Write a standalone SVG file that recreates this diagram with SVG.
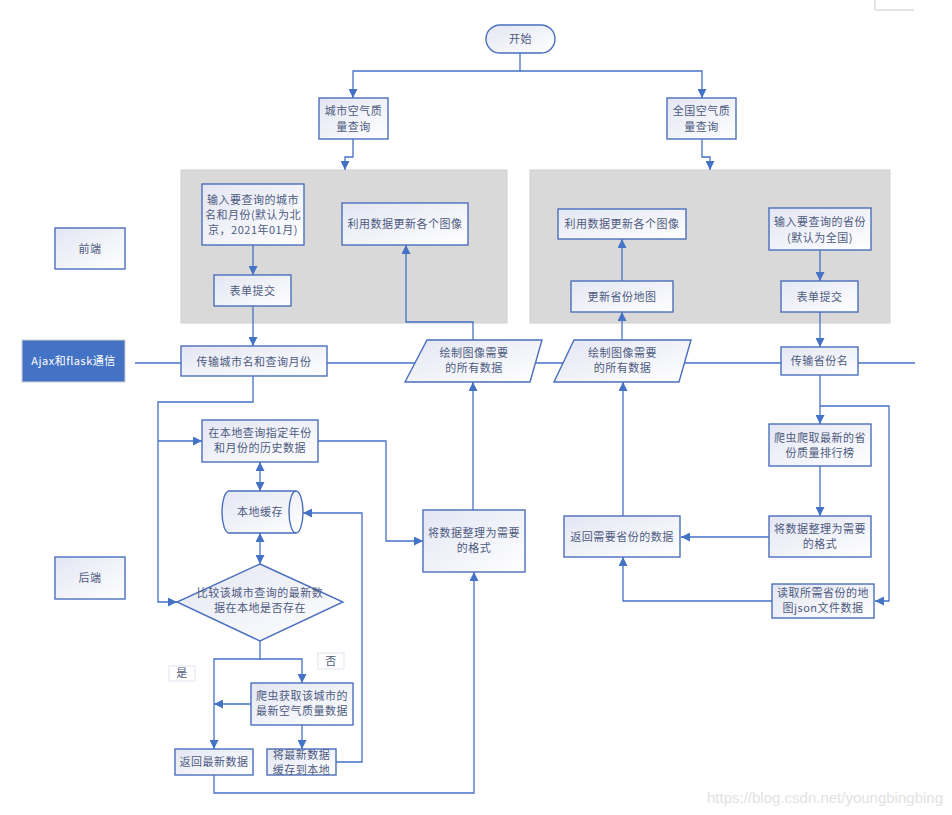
<svg xmlns="http://www.w3.org/2000/svg" width="952" height="815" viewBox="0 0 952 815">
<defs>
<linearGradient id="g" x1="0" y1="0" x2="1" y2="1">
<stop offset="0" stop-color="#e3e6f3"/>
<stop offset="1" stop-color="#ffffff"/>
</linearGradient>
<marker id="a" viewBox="0 0 10 10" refX="10" refY="5" markerWidth="9" markerHeight="9" markerUnits="userSpaceOnUse" orient="auto-start-reverse">
<path d="M0,0 L10,5 L0,10 Z" fill="#4472C4"/>
</marker>
</defs>
<style>
.n{fill:url(#g);stroke:#4a6fbd;stroke-width:1.4}
.p{fill:#d9d9d9;stroke:#d0d0d0;stroke-width:1}
.t{font-family:"Noto Sans CJK SC","Noto Sans",sans-serif;font-size:11px;letter-spacing:0.5px;fill:#4d5b80;text-anchor:middle}
.w{fill:#ffffff}
.c{fill:none;stroke:#4472C4;stroke-width:1.3}
.e{marker-end:url(#a)}
.d{marker-start:url(#a);marker-end:url(#a)}
.lb{fill:#ffffff;stroke:#e8e9f3;stroke-width:1.2}
</style>
<rect width="952" height="815" fill="#ffffff"/>
<path d="M875,0 V10 H914" fill="none" stroke="#c8c8c8" stroke-width="1"/>

<g id="panels">
<rect class="p" x="181" y="170" width="326" height="153"/>
<rect class="p" x="530" y="170" width="360" height="153"/>
</g>

<g id="connectors">
<path class="c" d="M135,363 H915"/>
<path class="c e" d="M520,53 V71 H353 V98"/>
<path class="c e" d="M520,71 H702 V98"/>
<path class="c e" d="M353,139 V157 H345 V170"/>
<path class="c e" d="M702,139 V157 H710 V170"/>
<path class="c e" d="M253,245 V275"/>
<path class="c e" d="M253,306 V346"/>
<path class="c e" d="M253,376 V402 H158 V602 H177"/>
<path class="c e" d="M158,441 H202"/>
<path class="c d" d="M260,462 V491"/>
<path class="c d" d="M260,533 V564"/>
<path class="c e" d="M318,441 H386 V541 H423"/>
<path class="c e" d="M473,510 V382"/>
<path class="c e" d="M473,340 V322 H406 V245"/>
<path class="c e" d="M260,641 V659 H214 V749"/>
<path class="c e" d="M260,659 H302 V683"/>
<path class="c e" d="M251,704 H214"/>
<path class="c e" d="M302,725 V749"/>
<path class="c e" d="M336,762 H362 V513 H303"/>
<path class="c e" d="M214,775 V793 H474 V572"/>
<path class="c e" d="M622,281 V239"/>
<path class="c e" d="M622,340 V312"/>
<path class="c e" d="M623,516 V382"/>
<path class="c e" d="M820,250 V281"/>
<path class="c e" d="M820,312 V347"/>
<path class="c e" d="M820,375 V424"/>
<path class="c e" d="M820,406 H889 V601 H875"/>
<path class="c e" d="M820,466 V516"/>
<path class="c e" d="M769,537 H681"/>
<path class="c e" d="M772,601 H623 V557"/>
</g>

<g id="start">
<rect class="n" x="486" y="25" width="69" height="28" rx="14"/>
<text class="t" x="520.5" y="43">开始</text>
</g>
<g id="city-query">
<rect class="n" x="319" y="98" width="69" height="41"/>
<text class="t" x="353.5" y="115">城市空气质</text>
<text class="t" x="353.5" y="131">量查询</text>
</g>
<g id="nation-query">
<rect class="n" x="667" y="98" width="69" height="41"/>
<text class="t" x="701.5" y="115">全国空气质</text>
<text class="t" x="701.5" y="131">量查询</text>
</g>

<g id="front-label">
<rect class="n" x="55" y="228" width="70" height="41"/>
<text class="t" x="90" y="253">前端</text>
</g>
<g id="back-label">
<rect class="n" x="55" y="557" width="70" height="42"/>
<text class="t" x="90" y="582">后端</text>
</g>

<g id="input-city">
<rect class="n" x="202" y="184" width="102" height="61"/>
<text class="t" x="253" y="204">输入要查询的城市</text>
<text class="t" x="253" y="219">名和月份(默认为北</text>
<text class="t" x="253" y="234">京，2021年01月)</text>
</g>
<g id="submit-city">
<rect class="n" x="214" y="275" width="77" height="31"/>
<text class="t" x="252.5" y="295">表单提交</text>
</g>
<g id="update-left">
<rect class="n" x="342" y="203" width="126" height="42"/>
<text class="t" x="405" y="228">利用数据更新各个图像</text>
</g>
<g id="update-right">
<rect class="n" x="558" y="209" width="128" height="30"/>
<text class="t" x="622" y="228">利用数据更新各个图像</text>
</g>
<g id="update-map">
<rect class="n" x="571" y="281" width="102" height="31"/>
<text class="t" x="622" y="301">更新省份地图</text>
</g>
<g id="input-province">
<rect class="n" x="769" y="208" width="102" height="42"/>
<text class="t" x="820" y="226">输入要查询的省份</text>
<text class="t" x="820" y="242">(默认为全国)</text>
</g>
<g id="submit-province">
<rect class="n" x="781" y="281" width="77" height="31"/>
<text class="t" x="819.5" y="301">表单提交</text>
</g>

<g id="ajax">
<rect x="22" y="340" width="103" height="42" fill="#4472C4" stroke="#d0d0d0" stroke-width="1"/>
<text class="t w" x="73.5" y="365">Ajax和flask通信</text>
</g>
<g id="send-city">
<rect class="n" x="181" y="346" width="146" height="30"/>
<text class="t" x="254" y="366">传输城市名和查询月份</text>
</g>
<g id="draw-data-left">
<polygon class="n" points="427,340 542,340 530,382 405,382"/>
<text class="t" x="474" y="357">绘制图像需要</text>
<text class="t" x="474" y="372">的所有数据</text>
</g>
<g id="draw-data-right">
<polygon class="n" points="574,340 691,340 679,382 554,382"/>
<text class="t" x="622.5" y="357">绘制图像需要</text>
<text class="t" x="622.5" y="372">的所有数据</text>
</g>
<g id="send-province">
<rect class="n" x="781" y="347" width="77" height="28"/>
<text class="t" x="819.5" y="365">传输省份名</text>
</g>

<g id="local-query">
<rect class="n" x="202" y="420" width="116" height="42"/>
<text class="t" x="260" y="437">在本地查询指定年份</text>
<text class="t" x="260" y="452">和月份的历史数据</text>
</g>
<g id="cache">
<path class="n" d="M229,491 L296,491 A7,21 0 0 1 296,533 L229,533 A7,21 0 0 1 229,491 Z"/>
<path d="M296,491 A7,21 0 0 0 296,533" fill="none" stroke="#4a6fbd" stroke-width="1.4"/>
<text class="t" x="260" y="516">本地缓存</text>
</g>
<g id="compare">
<polygon class="n" points="260,564 343,602 260,641 177,602"/>
<text class="t" x="260" y="597">比较该城市查询的最新数</text>
<text class="t" x="260" y="612">据在本地是否存在</text>
</g>
<g id="format-left">
<rect class="n" x="423" y="510" width="102" height="62"/>
<text class="t" x="474" y="537">将数据整理为需要</text>
<text class="t" x="474" y="552">的格式</text>
</g>
<g id="yes-label">
<rect class="lb" x="169" y="666" width="26" height="15"/>
<text class="t" x="182" y="677">是</text>
</g>
<g id="no-label">
<rect class="lb" x="318" y="653" width="26" height="16"/>
<text class="t" x="331" y="665">否</text>
</g>
<g id="crawl-city">
<rect class="n" x="251" y="683" width="102" height="42"/>
<text class="t" x="302" y="700">爬虫获取该城市的</text>
<text class="t" x="302" y="715">最新空气质量数据</text>
</g>
<g id="return-latest">
<rect class="n" x="175" y="749" width="78" height="26"/>
<text class="t" x="214" y="766">返回最新数据</text>
</g>
<g id="save-latest">
<rect class="n" x="267" y="749" width="69" height="26"/>
<text class="t" x="301.5" y="759">将最新数据</text>
<text class="t" x="301.5" y="774">缓存到本地</text>
</g>

<g id="crawl-province">
<rect class="n" x="769" y="424" width="102" height="42"/>
<text class="t" x="820" y="442">爬虫爬取最新的省</text>
<text class="t" x="820" y="457">份质量排行榜</text>
</g>
<g id="format-right">
<rect class="n" x="769" y="516" width="102" height="41"/>
<text class="t" x="820" y="533">将数据整理为需要</text>
<text class="t" x="820" y="548">的格式</text>
</g>
<g id="return-province">
<rect class="n" x="564" y="516" width="116" height="41"/>
<text class="t" x="622" y="541">返回需要省份的数据</text>
</g>
<g id="read-json">
<rect class="n" x="772" y="584" width="102" height="34"/>
<text class="t" x="823" y="597">读取所需省份的地</text>
<text class="t" x="823" y="612">图json文件数据</text>
</g>

<text x="943" y="803" font-family="Liberation Sans, Arial, sans-serif" font-size="15" fill="#e2e2e2" text-anchor="end">https://blog.csdn.net/youngbingbing</text>
</svg>
